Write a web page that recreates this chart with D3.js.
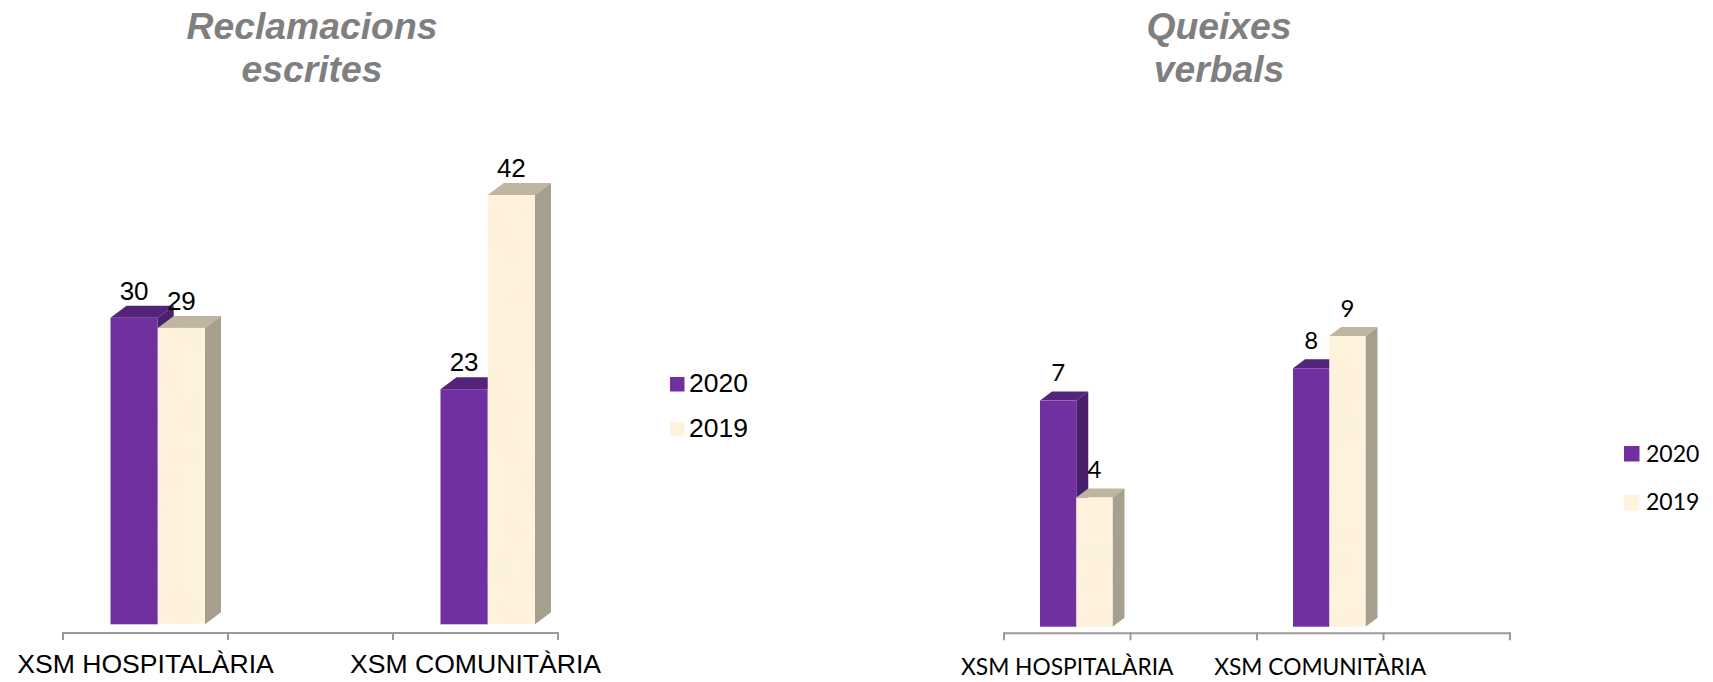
<!DOCTYPE html>
<html>
<head>
<meta charset="utf-8">
<script src="https://cdn.jsdelivr.net/npm/d3@7"></script>
<style>
  html, body { margin: 0; padding: 0; background: #fff; }
  svg { display: block; }
</style>
</head>
<body>
<script>
const years = ["2020", "2019"];
const leftTitle = ["Reclamacions", "escrites"];
const leftCategories = ["XSM HOSPITALÀRIA", "-", "XSM COMUNITÀRIA"];
const left2020 = [30, null, 23];
const left2019 = [29, null, 42];
const rightTitle = ["Queixes", "verbals"];
const rightCategories = ["XSM HOSPITALÀRIA", "-", "XSM COMUNITÀRIA", "--"];
const right2020 = [7, null, 8, null];
const right2019 = [4, null, 9, null];

let svg = d3.select("body").append("svg")
  .attr("width", 1713)
  .attr("height", 682);

let colors = {
  2020: { front: "#7030a0", top: "#54247a", side: "#4a1f6e" },
  2019: { front: "#fff3de", top: "#bfb5a0", side: "#a79f8e" }
};

// faint mottling for the cream bars
let defs = svg.append("defs");
let mottle = defs.append("filter").attr("id", "mottle")
  .attr("x", 0).attr("y", 0).attr("width", 1).attr("height", 1);
mottle.append("feTurbulence")
  .attr("type", "fractalNoise").attr("baseFrequency", 0.025)
  .attr("numOctaves", 2).attr("seed", 4).attr("result", "noise");
mottle.append("feColorMatrix").attr("in", "noise").attr("type", "matrix")
  .attr("values", "0 0 0 0 0.93  0 0 0 0 0.86  0 0 0 0 0.68  0.9 0 0 0 -0.36")
  .attr("result", "tint");
mottle.append("feComposite").attr("in", "tint").attr("in2", "SourceGraphic").attr("operator", "in").attr("result", "clipped");
mottle.append("feMerge").selectAll("feMergeNode")
  .data(["SourceGraphic", "clipped"]).join("feMergeNode").attr("in", (d) => d);

function drawChart(c) {
  let g = svg.append("g");
  let x = d3.scaleBand().domain(c.categories).range(c.xRange);
  let inner = d3.scaleBand().domain(years).range(c.innerRange);
  let y = d3.scaleLinear().domain([0, c.maxValue]).range([c.base, c.maxTop]);

  // axis line and the ticks on the band edges
  let edges = c.categories.map((d) => x(d)).concat(c.xRange[1]);
  g.append("line")
    .attr("x1", c.xRange[0]).attr("x2", c.xRange[1])
    .attr("y1", c.axisY).attr("y2", c.axisY)
    .attr("stroke", "#9a9a9a").attr("stroke-width", 2);
  g.selectAll(".tick").data(edges).join("line")
    .attr("class", "tick")
    .attr("x1", (d) => d).attr("x2", (d) => d)
    .attr("y1", c.axisY - 1).attr("y2", c.axisY + 7)
    .attr("stroke", "#9a9a9a").attr("stroke-width", 2);

  g.selectAll(".cat").data(c.categories.filter((d) => !d.startsWith("-"))).join("text")
    .attr("class", "cat")
    .attr("x", (d) => x(d) + x.bandwidth() / 2 + c.labelShift)
    .attr("y", c.catY)
    .attr("text-anchor", "middle")
    .style("font-family", c.font)
    .style("font-size", c.catSize + "px")
    .text((d) => d);

  let series = [
    { year: "2020", values: c.v2020 },
    { year: "2019", values: c.v2019 }
  ];
  let labels = [];
  series.forEach((s) => {
    c.categories.forEach((cat, i) => {
      let v = s.values[i];
      if (v == null) return;
      let x0 = x(cat) + inner(s.year);
      let x1 = x0 + inner.bandwidth();
      let top = y(v);
      let col = colors[s.year];
      let bar = g.append("g");
      bar.append("path")
        .attr("d", `M${x0},${top}L${x0 + c.dx},${top - c.dy}L${x1 + c.dx},${top - c.dy}L${x1},${top}Z`)
        .attr("fill", col.top);
      bar.append("path")
        .attr("d", `M${x1},${top}L${x1 + c.dx},${top - c.dy}L${x1 + c.dx},${c.base - c.dy}L${x1},${c.base}Z`)
        .attr("fill", col.side);
      let front = bar.append("rect")
        .attr("x", x0).attr("y", top)
        .attr("width", x1 - x0).attr("height", c.base - top)
        .attr("fill", col.front);
      if (s.year === "2019") front.attr("filter", "url(#mottle)");
      labels.push({ v, x: (x0 + x1) / 2, y: top - c.labelGap });
    });
  });

  g.selectAll(".value").data(labels).join("text")
    .attr("class", "value")
    .attr("x", (d) => d.x)
    .attr("y", (d) => d.y)
    .attr("text-anchor", "middle")
    .style("font-family", c.font)
    .style("font-size", c.valueSize + "px")
    .text((d) => d.v);

  g.selectAll(".swatch").data(years).join("rect")
    .attr("class", "swatch")
    .attr("x", c.legendX)
    .attr("y", (d, i) => c.legendY + i * c.legendStep)
    .attr("width", c.swatch).attr("height", c.swatch)
    .attr("fill", (d) => colors[d].front);
  g.selectAll(".legend").data(years).join("text")
    .attr("class", "legend")
    .attr("x", c.legendX + c.swatch + c.legendPad)
    .attr("y", (d, i) => c.legendY + c.swatch + i * c.legendStep)
    .style("font-family", c.font)
    .style("font-size", c.legendSize + "px")
    .text((d) => d);

  g.selectAll(".title").data(c.title).join("text")
    .attr("class", "title")
    .attr("x", c.titleX)
    .attr("y", (d, i) => c.titleY + i * c.titleStep)
    .attr("text-anchor", "middle")
    .attr("fill", "#7f7f7f")
    .style("font-family", "'Liberation Sans', Arial, sans-serif")
    .style("font-size", "37.3px")
    .style("font-weight", "bold")
    .style("font-style", "italic")
    .text((d) => d);
}

drawChart({
  categories: leftCategories, v2020: left2020, v2019: left2019, title: leftTitle,
  font: "'Liberation Sans', Arial, sans-serif",
  xRange: [63, 558], innerRange: [47.5, 142], maxValue: 42, base: 624.3, maxTop: 195,
  dx: 16, dy: 12, axisY: 633, catY: 673, catSize: 26.6, labelShift: 0,
  labelGap: 18, valueSize: 26,
  legendX: 670, legendY: 377, legendStep: 45, swatch: 14.5, legendPad: 4.5, legendSize: 26.5,
  titleX: 312, titleY: 39, titleStep: 43
});

drawChart({
  categories: rightCategories, v2020: right2020, v2019: right2019, title: rightTitle,
  font: "Lato, 'Noto Sans', sans-serif",
  xRange: [1004, 1510], innerRange: [36, 108.5], maxValue: 9, base: 626.7, maxTop: 336,
  dx: 12, dy: 9, axisY: 633.3, catY: 675, catSize: 22.75, labelShift: 0,
  labelGap: 19.5, valueSize: 24,
  legendX: 1624, legendY: 446, legendStep: 48.5, swatch: 15.5, legendPad: 6.5, legendSize: 23,
  titleX: 1219, titleY: 39, titleStep: 43
});
</script>
</body>
</html>
